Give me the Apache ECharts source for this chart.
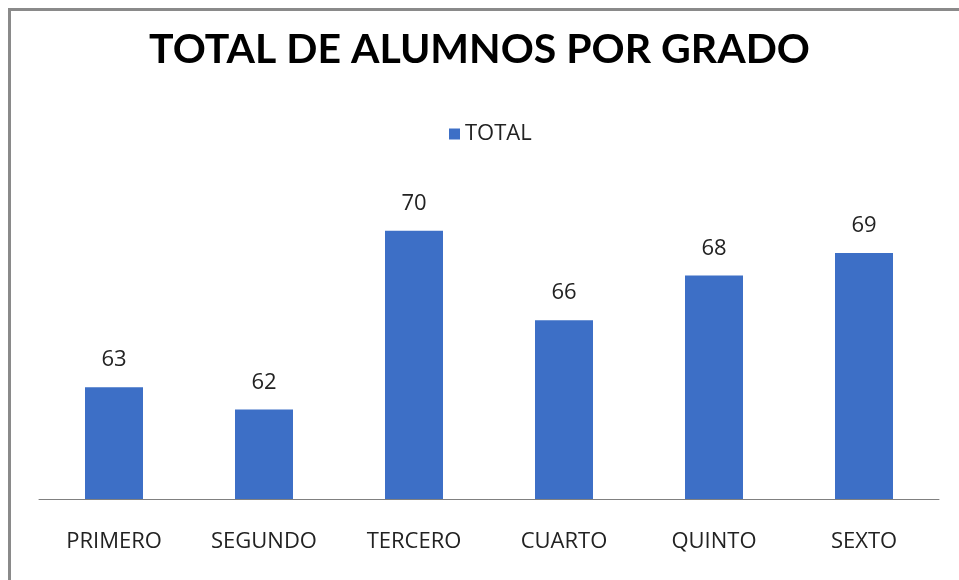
<html>
<head>
<meta charset="utf-8">
<style>
  html, body { margin: 0; padding: 0; background: #fff; }
  #wrap { position: absolute; left: 8px; top: 8px; width: 951px; height: 572px;
          border-left: 3px solid #8a8a8a; border-top: 3px solid #8a8a8a; box-sizing: border-box; }
  #chart1 { position: absolute; left: 0; top: 0; width: 959px; height: 580px; }
</style>
</head>
<body>
<div id="wrap"></div>
<div id="chart1"></div>
<script src="https://cdn.jsdelivr.net/npm/echarts@6/dist/echarts.min.js"></script>
<script>
  // datos
  let grados = ['PRIMERO', 'SEGUNDO', 'TERCERO', 'CUARTO', 'QUINTO', 'SEXTO'];
  let totales = [63, 62, 70, 66, 68, 69];
  let serieNombre = 'TOTAL';
  let titulo = 'TOTAL DE ALUMNOS POR GRADO';

  let myChart = echarts.init(document.getElementById('chart1'));
  let option = {
    animation: false,
    title: {
      text: titulo,
      left: 'center',
      top: 24,
      textStyle: { fontFamily: 'Lato', fontWeight: 'bold', fontSize: 41, color: '#000' }
    },
    legend: {
      data: [{ name: serieNombre, icon: 'rect' }],
      top: 118,
      left: 444,
      itemWidth: 11,
      itemHeight: 11,
      itemGap: 6,
      textStyle: { fontFamily: 'Open Sans', fontSize: 22, color: '#222' }
    },
    grid: { left: 39, right: 20, top: 186, bottom: 81 },
    xAxis: {
      type: 'category',
      data: grados,
      axisLine: { lineStyle: { color: '#808080', width: 1 } },
      axisTick: { show: false },
      axisLabel: { fontFamily: 'Open Sans', fontSize: 22, color: '#222', margin: 32 }
    },
    yAxis: {
      type: 'value',
      min: 58,
      max: 72,
      show: false,
      splitLine: { show: false }
    },
    series: [{
      name: serieNombre,
      type: 'bar',
      data: totales,
      barWidth: 58,
      itemStyle: { color: '#3d6fc6' },
      label: {
        show: true,
        position: 'top',
        distance: 16,
        fontFamily: 'Open Sans',
        fontSize: 22,
        color: '#222'
      }
    }]
  };
  myChart.setOption(option);
</script>
</body>
</html>
